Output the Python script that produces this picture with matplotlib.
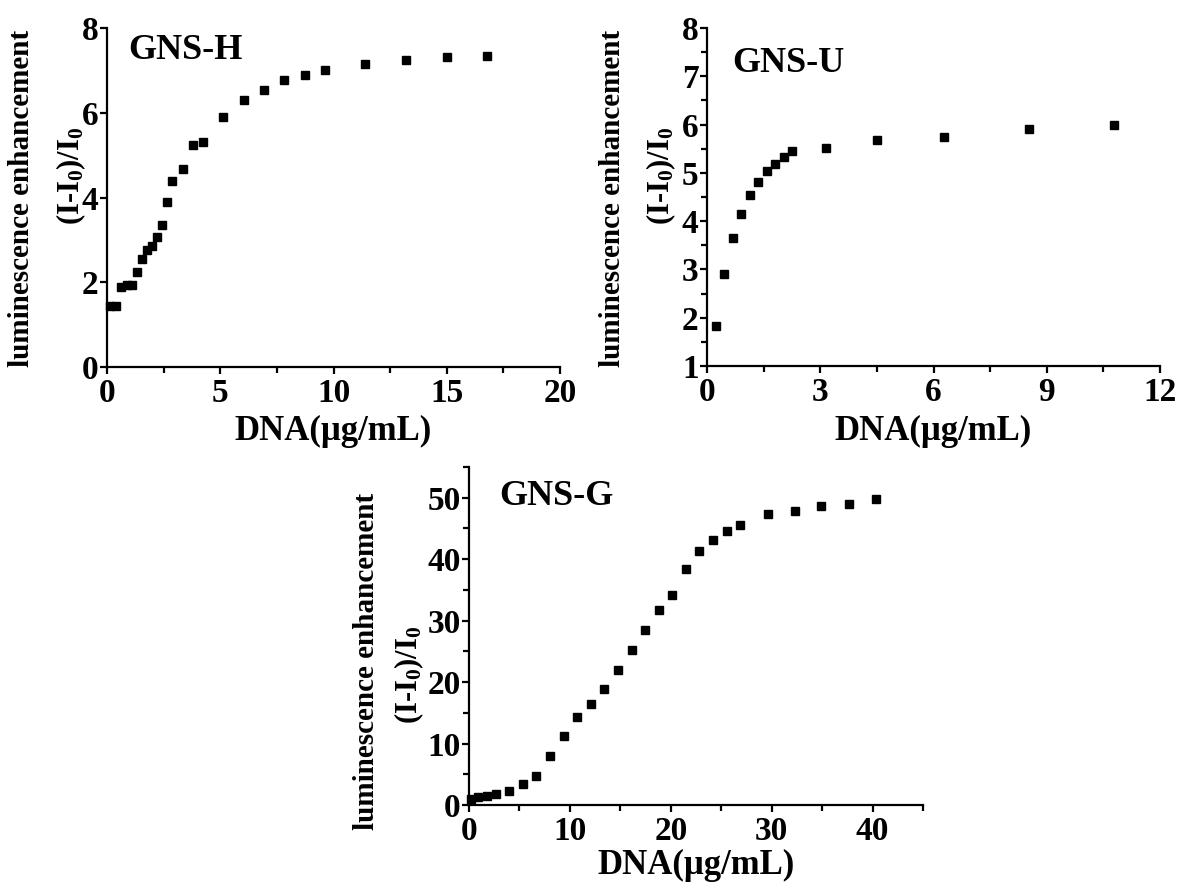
import numpy as np
import matplotlib.pyplot as plt
from matplotlib.ticker import MultipleLocator

plt.rcParams['font.family'] = ['Liberation Serif', 'DejaVu Serif']
plt.rcParams['font.weight'] = 'bold'
plt.rcParams['mathtext.default'] = 'regular'

# GNS-H
h_x = [0.15, 0.41, 0.63, 0.88, 1.10, 1.34, 1.55, 1.78, 1.99, 2.22, 2.44, 2.66, 2.88,
       3.34, 3.80, 4.24, 5.14, 6.03, 6.93, 7.83, 8.73, 9.62, 11.41, 13.20, 15.00, 16.78]
h_y = [1.44, 1.44, 1.88, 1.93, 1.94, 2.25, 2.54, 2.76, 2.86, 3.07, 3.35, 3.89, 4.39,
       4.68, 5.23, 5.32, 5.91, 6.30, 6.53, 6.78, 6.90, 7.02, 7.15, 7.24, 7.31, 7.34]

# GNS-U
u_x = [0.23, 0.46, 0.69, 0.91, 1.14, 1.36, 1.58, 1.80, 2.03, 2.26, 3.15, 4.50, 6.28, 8.53, 10.77]
u_y = [1.83, 2.91, 3.66, 4.15, 4.55, 4.81, 5.04, 5.18, 5.33, 5.46, 5.51, 5.69, 5.74, 5.90, 6.00]

# GNS-G
g_x = [0.23, 0.89, 1.79, 2.68, 4.01, 5.36, 6.69, 8.01, 9.40, 10.73, 12.09, 13.41, 14.77,
       16.13, 17.48, 18.81, 20.13, 21.49, 22.81, 24.21, 25.53, 26.89, 29.60, 32.28,
       34.93, 37.62, 40.33]
g_y = [1.03, 1.25, 1.46, 1.84, 2.28, 3.42, 4.72, 7.92, 11.17, 14.26, 16.38, 18.93, 21.96,
       25.27, 28.47, 31.67, 34.22, 38.39, 41.27, 43.06, 44.58, 45.61, 47.29, 47.89,
       48.70, 48.97, 49.78]

W, H = 1182, 884
fig = plt.figure(figsize=(W / 100, H / 100), dpi=100)


def add_panel(box, x, y, xlim, ylim, xmaj, xmin, ymaj, ymin, name, name_pos,
              lab1, lab2, xlab_y):
    l, t, r, b = box
    ax = fig.add_axes([l / W, 1 - b / H, (r - l) / W, (b - t) / H])
    ax.plot(x, y, 's', color='black', markersize=5.5, clip_on=False)
    ax.set_xlim(*xlim)
    ax.set_ylim(*ylim)
    for s in ['top', 'right']:
        ax.spines[s].set_visible(False)
    for s in ['left', 'bottom']:
        ax.spines[s].set_linewidth(1.6)
    ax.xaxis.set_major_locator(MultipleLocator(xmaj))
    ax.yaxis.set_major_locator(MultipleLocator(ymaj))
    if xmin:
        ax.xaxis.set_minor_locator(MultipleLocator(xmin))
    if ymin:
        ax.yaxis.set_minor_locator(MultipleLocator(ymin))
    ax.tick_params(which='both', direction='out', width=1.6, labelsize=24, pad=1)
    ax.tick_params(which='major', length=5)
    ax.tick_params(which='minor', length=4)
    ax.tick_params(axis='x', pad=3)
    fig.text(name_pos[0] / W, 1 - name_pos[1] / H, name, fontsize=26,
             fontweight='bold', ha='left', va='baseline')
    fig.text(lab1[0] / W, 1 - lab1[1] / H, 'luminescence enhancement', fontsize=21,
             fontweight='bold', rotation=90, ha='center', va='center')
    fig.text(lab2[0] / W, 1 - lab2[1] / H, '(I-I$_0$)/I$_0$', fontsize=22,
             fontweight='bold', rotation=90, ha='center', va='center')
    fig.text((l + r) / 2 / W, 1 - xlab_y / H, 'DNA(μg/mL)', fontsize=25,
             fontweight='bold', ha='center', va='baseline')
    return ax


add_panel((107, 28, 560, 367), h_x, h_y, (0, 20), (0, 8), 5, 2.5, 2, None,
          'GNS-H', (128, 59), (22, 198), (71, 176), 440)
add_panel((707, 28, 1160, 366), u_x, u_y, (0, 12), (1, 8), 3, 1.5, 1, 0.5,
          'GNS-U', (732, 72), (612, 198), (661, 176), 440)
add_panel((469, 467, 923, 805), g_x, g_y, (0, 45), (0, 55), 10, 5, 10, 5,
          'GNS-G', (499, 505), (366, 661), (409, 675), 874)

fig.savefig('out.png', dpi=100)
